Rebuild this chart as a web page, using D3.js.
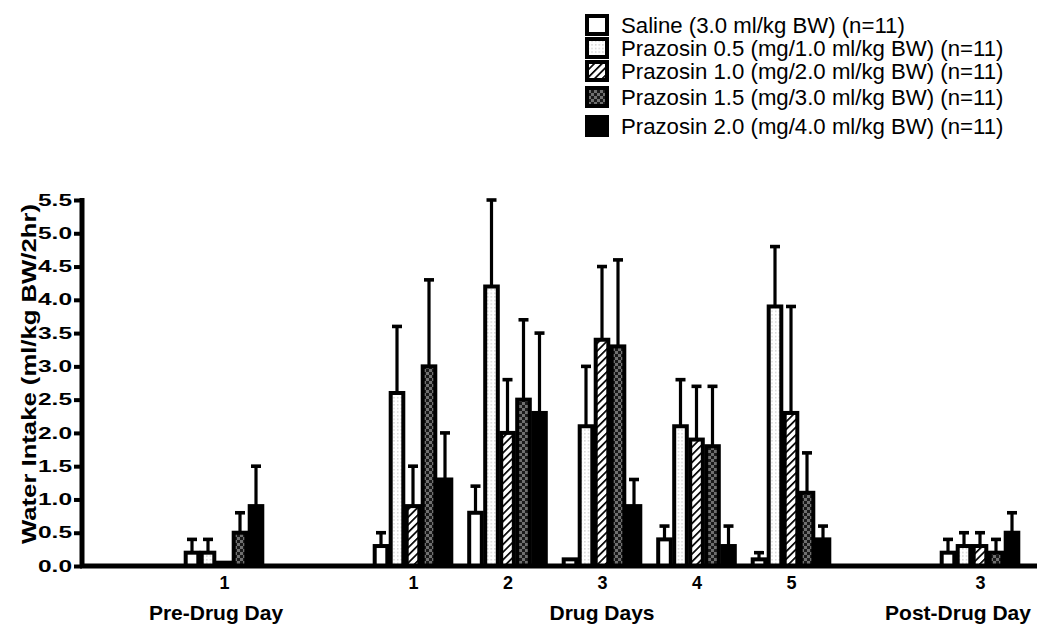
<!DOCTYPE html>
<html>
<head>
<meta charset="utf-8">
<script src="https://cdn.jsdelivr.net/npm/d3@7"></script>
<style>
  html, body { margin: 0; padding: 0; background: #fff; }
  svg { display: block; }
  text { font-family: "Liberation Sans", Arial, Helvetica, sans-serif; fill: #000; }
</style>
</head>
<body>
<svg id="chart" width="1050" height="643"></svg>
<script>
// ---------- DATA ----------
const slots = ["pre", "gapA", "d1", "d2", "d3", "d4", "d5", "gapB", "post"];
const categories = ["pre", "d1", "d2", "d3", "d4", "d5", "post"];
const tickLabels = ["1", "1", "2", "3", "4", "5", "3"];
const groupLabels = ["Pre-Drug Day", "Drug Days", "Post-Drug Day"];
const seriesNames = [
  "Saline (3.0 ml/kg BW) (n=11)",
  "Prazosin 0.5 (mg/1.0 ml/kg BW) (n=11)",
  "Prazosin 1.0 (mg/2.0 ml/kg BW) (n=11)",
  "Prazosin 1.5 (mg/3.0 ml/kg BW) (n=11)",
  "Prazosin 2.0 (mg/4.0 ml/kg BW) (n=11)"
];
// means per category (pre, d1..d5, post)
const saline   = [0.2, 0.3, 0.8, 0.1, 0.4, 0.1, 0.2];
const praz05   = [0.2, 2.6, 4.2, 2.1, 2.1, 3.9, 0.3];
const praz10   = [0.05, 0.9, 2.0, 3.4, 1.9, 2.3, 0.3];
const praz15   = [0.5, 3.0, 2.5, 3.3, 1.8, 1.1, 0.2];
const praz20   = [0.9, 1.3, 2.3, 0.9, 0.3, 0.4, 0.5];
// upper error (SEM) per category
const salineErr = [0.2, 0.2, 0.4, 0.0, 0.2, 0.1, 0.2];
const praz05Err = [0.2, 1.0, 1.3, 0.9, 0.7, 0.9, 0.2];
const praz10Err = [0.0, 0.6, 0.8, 1.1, 0.8, 1.6, 0.2];
const praz15Err = [0.3, 1.3, 1.2, 1.3, 0.9, 0.6, 0.2];
const praz20Err = [0.6, 0.7, 1.2, 0.4, 0.3, 0.2, 0.3];
const yTicks = [0, 0.5, 1, 1.5, 2, 2.5, 3, 3.5, 4, 4.5, 5, 5.5];

const seriesValues = [saline, praz05, praz10, praz15, praz20];
const seriesErrors = [salineErr, praz05Err, praz10Err, praz15Err, praz20Err];

// ---------- LAYOUT ----------
const svg = d3.select("#chart");
const fills = ["#ffffff", "url(#dots)", "url(#hatch)", "url(#check)", "#000000"];

const defs = svg.append("defs");
// dotted pattern
const pd = defs.append("pattern").attr("id", "dots").attr("patternUnits", "userSpaceOnUse")
  .attr("width", 3.6).attr("height", 3.6);
pd.append("rect").attr("width", 3.6).attr("height", 3.6).attr("fill", "#fff");
pd.append("rect").attr("x", 1.2).attr("y", 1.2).attr("width", 1).attr("height", 1).attr("fill", "#a0a0a0");
// hatch pattern "/"
const ph = defs.append("pattern").attr("id", "hatch").attr("patternUnits", "userSpaceOnUse")
  .attr("width", 5.4).attr("height", 5.4).attr("patternTransform", "rotate(45)");
ph.append("rect").attr("width", 5.4).attr("height", 5.4).attr("fill", "#fff");
ph.append("line").attr("x1", 0).attr("y1", 0).attr("x2", 0).attr("y2", 5.4)
  .attr("stroke", "#000").attr("stroke-width", 3.4);
// checker pattern
const pc = defs.append("pattern").attr("id", "check").attr("patternUnits", "userSpaceOnUse")
  .attr("width", 6).attr("height", 6);
pc.append("rect").attr("width", 6).attr("height", 6).attr("fill", "#1a1a1a");
pc.append("rect").attr("x", 0).attr("y", 0).attr("width", 3).attr("height", 3).attr("fill", "#707070");
pc.append("rect").attr("x", 3).attr("y", 3).attr("width", 3).attr("height", 3).attr("fill", "#707070");

const x0 = d3.scalePoint().domain(slots).range([224, 980]);
const x1 = d3.scaleBand().domain(d3.range(seriesNames.length)).range([-40, 40]);
const y = d3.scaleLinear().domain([0, 5.5]).range([566, 200]);

// ---------- BARS ----------
const barG = svg.append("g");
seriesNames.forEach((name, s) => {
  const g = barG.append("g");
  const data = categories.map((c, i) => ({ c, v: seriesValues[s][i], e: seriesErrors[s][i] }));
  const cx = d => x0(d.c) + x1(s) + x1.bandwidth() / 2;
  // error bars (upper only)
  const eb = g.selectAll("g.err").data(data.filter(d => d.e > 0)).join("g");
  eb.append("line")
    .attr("x1", cx).attr("x2", cx)
    .attr("y1", d => y(d.v)).attr("y2", d => y(d.v + d.e))
    .attr("stroke", "#000").attr("stroke-width", 3.2);
  eb.append("line")
    .attr("x1", d => cx(d) - 5).attr("x2", d => cx(d) + 5)
    .attr("y1", d => y(d.v + d.e)).attr("y2", d => y(d.v + d.e))
    .attr("stroke", "#000").attr("stroke-width", 3.6);
  g.selectAll("rect").data(data).join("rect")
    .attr("x", d => x0(d.c) + x1(s) + 1.7)
    .attr("width", x1.bandwidth() - 3.4)
    .attr("y", d => y(d.v))
    .attr("height", d => y(0) - y(d.v))
    .attr("fill", fills[s])
    .attr("stroke", "#000").attr("stroke-width", 4);
});

// ---------- AXES ----------
const yAxis = d3.axisLeft(y).tickValues(yTicks).tickFormat(d3.format(".1f"))
  .tickSize(8).tickSizeOuter(0).tickPadding(2);
const yg = svg.append("g").attr("transform", "translate(82,0)").call(yAxis);
yg.select(".domain").attr("stroke-width", 5).attr("d", "M0," + (y(5.5) - 2) + "V" + (y(0) + 2));
yg.selectAll(".tick line").attr("stroke-width", 4);
yg.selectAll(".tick text")
  .attr("font-size", 16).attr("font-weight", "bold")
  .attr("font-family", "'Liberation Sans', Arial, sans-serif")
  .attr("textLength", 34).attr("lengthAdjust", "spacingAndGlyphs");

// x axis line
svg.append("line").attr("x1", 80).attr("x2", 1037).attr("y1", y(0)).attr("y2", y(0))
  .attr("stroke", "#000").attr("stroke-width", 5);

const xAxis = d3.axisBottom(x0).tickValues(categories)
  .tickFormat((d) => tickLabels[categories.indexOf(d)]).tickSize(0).tickPadding(10);
const xg = svg.append("g").attr("transform", "translate(0," + y(0) + ")").call(xAxis);
xg.select(".domain").remove();
xg.selectAll(".tick text").attr("font-size", 18).attr("font-weight", "bold")
  .attr("font-family", "'Liberation Sans', Arial, sans-serif");

// group labels
const groupX = [x0("pre") - 8, x0("d3"), x0("post") - 22];
svg.selectAll("text.grp").data(groupLabels).join("text").attr("class", "grp")
  .attr("x", (d, i) => groupX[i]).attr("y", 620)
  .attr("text-anchor", "middle").attr("font-size", 21).attr("font-weight", "bold")
  .text(d => d);

// y label
svg.append("text")
  .attr("transform", "translate(36,374) rotate(-90)")
  .attr("text-anchor", "middle").attr("font-size", 21).attr("font-weight", "bold")
  .attr("textLength", 340).attr("lengthAdjust", "spacingAndGlyphs")
  .text("Water Intake (ml/kg BW/2hr)");

// ---------- LEGEND ----------
const legendBase = [33, 56, 79, 105, 134];
const lg = svg.append("g");
seriesNames.forEach((name, s) => {
  lg.append("rect").attr("x", 587).attr("y", legendBase[s] - 17)
    .attr("width", 20).attr("height", 18)
    .attr("fill", fills[s]).attr("stroke", "#000").attr("stroke-width", 4);
  lg.append("text").attr("x", 621).attr("y", legendBase[s])
    .attr("font-size", 22.2).text(name);
});
</script>
</body>
</html>
